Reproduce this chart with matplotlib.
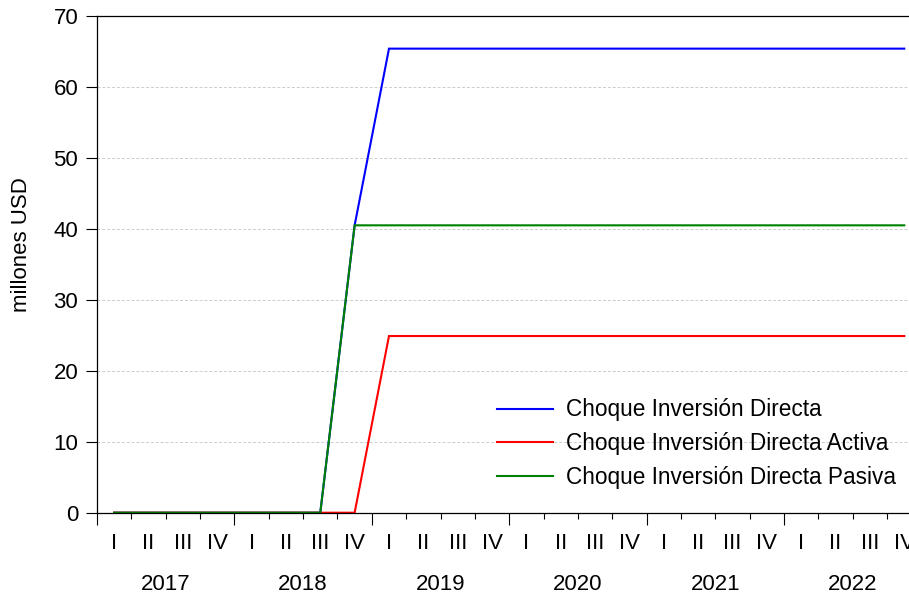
import matplotlib
matplotlib.use("Agg")
import matplotlib.pyplot as plt
import matplotlib.transforms as mtransforms
import numpy as np

# --- Data (quarterly, 2017Q1 - 2022Q4) ---
years = [2017, 2018, 2019, 2020, 2021, 2022]
quarter_labels = ["I", "II", "III", "IV"]

directa = [0, 0, 0, 0, 0, 0, 0, 40.5] + [65.4] * 16
directa_activa = [0, 0, 0, 0, 0, 0, 0, 0] + [24.9] * 16
directa_pasiva = [0, 0, 0, 0, 0, 0, 0] + [40.5] * 17

series_labels = ["Choque Inversión Directa",
                 "Choque Inversión Directa Activa",
                 "Choque Inversión Directa Pasiva"]
series_colors = ["#0000ff", "#ff0000", "#008000"]

# --- Figure setup ---
plt.rcParams["font.family"] = ["Liberation Sans", "DejaVu Sans"]
plt.rcParams["font.size"] = 16

fig = plt.figure(figsize=(9.09, 5.97), dpi=100)
ax = fig.add_axes([0.1067, 0.1412, 0.9070, 0.832])

n_q = len(years) * len(quarter_labels)
x = np.arange(n_q) + 0.5

for vals, lab, col in zip([directa, directa_activa, directa_pasiva], series_labels, series_colors):
    ax.plot(x, vals, color=col, lw=1.5, label=lab, solid_joinstyle="miter")

ax.set_xlim(0, n_q)
ax.set_ylim(0, 70)
ax.set_yticks(np.arange(0, 71, 10))
ax.tick_params(axis="y", length=8, width=0.8, pad=5.5, labelsize=16)

# x axis: long ticks at year boundaries, short at quarter boundaries
ax.set_xticks(np.arange(0, n_q + 1, 4))
ax.set_xticks(np.arange(0, n_q + 1, 1), minor=True)
ax.tick_params(axis="x", which="major", length=8.5, width=0.8, labelbottom=False)
ax.tick_params(axis="x", which="minor", length=4.5, width=0.8)

trans = mtransforms.blended_transform_factory(ax.transData, ax.transAxes)
for i in range(n_q):
    ax.text(x[i], -0.061, quarter_labels[i % 4], transform=trans,
            ha="center", va="center", fontsize=16)
for j, yr in enumerate(years):
    ax.text(j * 4 + 2, -0.144, str(yr), transform=trans,
            ha="center", va="center", fontsize=16)

# grid
for v in range(10, 70, 10):
    ax.axhline(v, color="#cccccc", lw=0.7, ls=(0, (3, 2)), zorder=0)

for s in ["left", "bottom", "top", "right"]:
    ax.spines[s].set_linewidth(0.9)

ax.set_ylabel("millones USD", fontsize=16)
ax.yaxis.set_label_coords(-0.079, 0.54)

ax.legend(loc="lower left", bbox_to_anchor=(0.474, 0.03), frameon=False,
          handlelength=2.5, handletextpad=0.55, borderaxespad=0,
          labelspacing=0.47, prop={"size": 16.3})

fig.savefig("out.png", dpi=100)
